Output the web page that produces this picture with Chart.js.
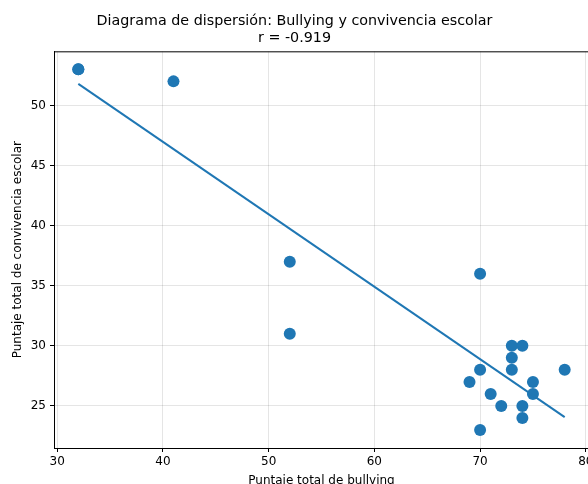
<!DOCTYPE html>
<html>
<head>
<meta charset="utf-8">
<script src="https://cdn.jsdelivr.net/npm/chart.js@4.4.0/dist/chart.umd.min.js"></script>
<style>
  html, body { margin: 0; padding: 0; background: #fff; overflow: hidden; }
  #wrap { width: 600px; height: 488px; }
</style>
</head>
<body>
<div id="wrap"><canvas id="chart" width="600" height="488"></canvas></div>
<script>
// Puntajes (el punto 32/53 aparece dos veces, superpuesto)
const bullying = [32, 32, 41, 52, 52, 70, 69, 70, 70, 71, 72, 73, 73, 73, 74, 74, 74, 75, 75, 78];
const convivencia = [53, 53, 52, 37, 31, 36, 27, 28, 23, 26, 25, 30, 29, 28, 30, 25, 24, 27, 26, 28];
const xTicks = [30, 40, 50, 60, 70, 80];
const yTicks = [25, 30, 35, 40, 45, 50];
const titleLines = ["Diagrama de dispersión: Bullying y convivencia escolar", "r = -0.919"];

const blue = "#1f77b4";

// recta de minimos cuadrados
const n = bullying.length;
const mx = bullying.reduce((a, b) => a + b, 0) / n;
const my = convivencia.reduce((a, b) => a + b, 0) / n;
let sxy = 0, sxx = 0;
bullying.forEach((x, i) => {
  sxy += (x - mx) * (convivencia[i] - my);
  sxx += (x - mx) * (x - mx);
});
const slope = sxy / sxx;
const icept = my - slope * mx;
const xMin = Math.min(...bullying);
const xMax = Math.max(...bullying);
const fitLine = [xMin, xMax].map((x) => ({ x: x, y: icept + slope * x }));

const points = bullying.map((x, i) => ({ x: x, y: convivencia[i] }));

// marco completo como en matplotlib
const boxPlugin = {
  id: "box",
  afterDraw(chart) {
    const { ctx, chartArea: a } = chart;
    ctx.save();
    ctx.strokeStyle = "#000";
    ctx.lineWidth = 1;
    ctx.strokeRect(a.left + 0.5, a.top + 0.5, a.right - a.left, a.bottom - a.top);
    ctx.restore();
  },
};

Chart.defaults.font.family = "'DejaVu Sans', sans-serif";
Chart.defaults.color = "#000";

new Chart(document.getElementById("chart"), {
  type: "scatter",
  data: {
    datasets: [
      {
        data: points,
        backgroundColor: blue,
        borderWidth: 0,
        pointRadius: 6,
        pointHoverRadius: 6,
        order: 2,
      },
      {
        type: "line",
        data: fitLine,
        borderColor: blue,
        borderWidth: 2,
        pointRadius: 0,
        fill: false,
        order: 1,
      },
    ],
  },
  options: {
    responsive: false,
    animation: false,
    layout: { padding: { left: 0, right: 11, top: 0, bottom: 0 } },
    plugins: {
      legend: { display: false },
      tooltip: { enabled: false },
      title: {
        display: true,
        text: titleLines,
        font: { size: 14.3, weight: "normal" },
        lineHeight: 1.25,
        padding: { top: 13, bottom: 4 },
      },
    },
    scales: {
      x: {
        type: "linear",
        min: 29.7,
        max: 80.3,
        afterBuildTicks: (s) => { s.ticks = xTicks.map((v) => ({ value: v })); },
        afterFit: (s) => { s.paddingRight = 0; s.paddingLeft = 0; s.height = 40; },
        ticks: { font: { size: 12 }, padding: 3, maxRotation: 0 },
        grid: { color: "rgba(0,0,0,0.1)", tickColor: "#000", tickLength: 4 },
        border: { color: "#000", width: 1 },
        title: {
          display: true,
          text: "Puntaje total de bullying",
          font: { size: 12 },
          padding: { top: 3, bottom: 0 },
        },
      },
      y: {
        type: "linear",
        min: 21.5,
        max: 54.5,
        afterBuildTicks: (s) => { s.ticks = yTicks.map((v) => ({ value: v })); },
        afterFit: (s) => { s.width = 54; },
        ticks: { font: { size: 12 }, padding: 4 },
        grid: { color: "rgba(0,0,0,0.1)", tickColor: "#000", tickLength: 4 },
        border: { color: "#000", width: 1 },
        title: {
          display: true,
          text: "Puntaje total de convivencia escolar",
          font: { size: 12 },
          padding: { top: 11, bottom: 0 },
        },
      },
    },
  },
  plugins: [boxPlugin],
});
</script>
</body>
</html>
